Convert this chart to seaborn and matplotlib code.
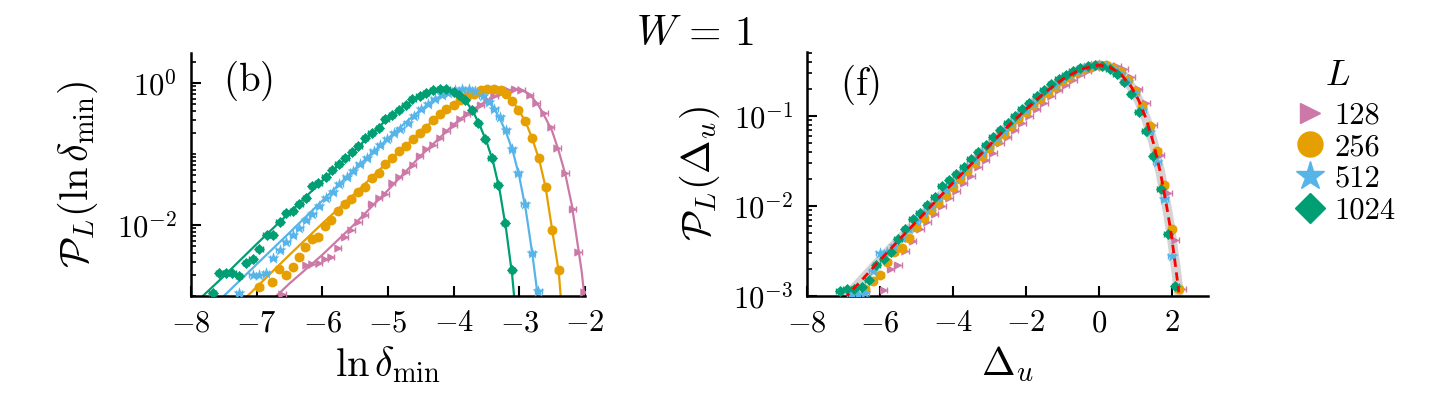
import numpy as np
import pandas as pd
import matplotlib
matplotlib.use("Agg")
import matplotlib.pyplot as plt
import seaborn as sns
from matplotlib.lines import Line2D
from matplotlib.ticker import FixedLocator, LogLocator, FuncFormatter, NullFormatter

# ---------------- data: panel (b), P_L(ln delta_min) ----------------
L_labels = ["128", "256", "512", "1024"]

lnd_x_128 = [-6.61, -6.25, -6.15, -6.05, -5.96, -5.87, -5.76, -5.66, -5.56, -5.45, -5.35, -5.25, -5.14, -5.04,
             -4.94, -4.83, -4.73, -4.62, -4.52, -4.42, -4.31, -4.21, -4.11, -4.00, -3.90, -3.80, -3.69, -3.59,
             -3.49, -3.38, -3.28, -3.18, -3.07, -2.97, -2.84, -2.74, -2.62, -2.52, -2.42, -2.30, -2.19, -2.10, -2.01]
lnd_y_128 = [0.00107, 0.0027, 0.0028, 0.0029, 0.0033, 0.0036, 0.0048, 0.0068, 0.0085, 0.0112, 0.014, 0.0195, 0.0243,
             0.0277, 0.0394, 0.048, 0.0565, 0.0705, 0.093, 0.116, 0.136, 0.17, 0.211, 0.255, 0.31, 0.366, 0.432,
             0.493, 0.569, 0.656, 0.733, 0.79, 0.816, 0.79, 0.686, 0.526, 0.379, 0.244, 0.122, 0.0547, 0.0169,
             0.0042, 0.00114]

lnd_x_256 = [-6.96, -6.76, -6.66, -6.55, -6.45, -6.35, -6.26, -6.15, -6.06, -5.96, -5.87, -5.76, -5.66, -5.56,
             -5.45, -5.35, -5.25, -5.14, -5.04, -4.94, -4.83, -4.73, -4.62, -4.52, -4.42, -4.31, -4.21, -4.11,
             -4.00, -3.90, -3.80, -3.69, -3.59, -3.49, -3.38, -3.28, -3.20, -3.11, -3.02, -2.91, -2.81, -2.70,
             -2.60, -2.50, -2.40]
lnd_y_256 = [0.00135, 0.0016, 0.0024, 0.00195, 0.0026, 0.0035, 0.0049, 0.0063, 0.0067, 0.0098, 0.0117, 0.0156,
             0.0195, 0.0235, 0.0292, 0.0345, 0.0454, 0.0535, 0.0728, 0.0878, 0.109, 0.129, 0.161, 0.20, 0.236,
             0.304, 0.366, 0.432, 0.493, 0.569, 0.656, 0.71, 0.79, 0.816, 0.816, 0.79, 0.71, 0.55, 0.418, 0.294,
             0.168, 0.0878, 0.0345, 0.00845, 0.00233]

lnd_x_512 = [-7.27, -7.06, -6.96, -6.86, -6.75, -6.65, -6.55, -6.45, -6.35, -6.25, -6.15, -6.05, -5.94, -5.84,
             -5.74, -5.63, -5.53, -5.43, -5.32, -5.22, -5.12, -5.01, -4.91, -4.81, -4.70, -4.60, -4.50, -4.39,
             -4.29, -4.18, -4.08, -3.98, -3.87, -3.77, -3.67, -3.56, -3.46, -3.38, -3.30, -3.20, -3.11, -3.02,
             -2.92, -2.81, -2.71]
lnd_y_512 = [0.0011, 0.0020, 0.0020, 0.0021, 0.0034, 0.0045, 0.0058, 0.0072, 0.0092, 0.0118, 0.0145, 0.0186,
             0.0237, 0.029, 0.0377, 0.048, 0.058, 0.073, 0.088, 0.109, 0.132, 0.161, 0.196, 0.223, 0.272, 0.347,
             0.432, 0.509, 0.588, 0.671, 0.733, 0.79, 0.816, 0.816, 0.765, 0.656, 0.538, 0.432, 0.328, 0.219,
             0.118, 0.0535, 0.0199, 0.0040, 0.00118]

lnd_x_1024 = [-7.67, -7.57, -7.47, -7.37, -7.27, -7.16, -7.06, -6.96, -6.85, -6.75, -6.65, -6.55, -6.45, -6.35,
              -6.25, -6.16, -6.06, -5.95, -5.85, -5.75, -5.65, -5.55, -5.45, -5.35, -5.25, -5.14, -5.04, -4.94,
              -4.83, -4.73, -4.63, -4.52, -4.42, -4.31, -4.21, -4.11, -4.00, -3.92, -3.83, -3.72, -3.63, -3.52,
              -3.42, -3.33, -3.22, -3.11]
lnd_y_1024 = [0.0011, 0.0021, 0.0021, 0.0021, 0.0019, 0.0029, 0.0033, 0.0046, 0.0072, 0.0072, 0.011, 0.0149,
              0.016, 0.020, 0.024, 0.035, 0.039, 0.048, 0.060, 0.073, 0.088, 0.107, 0.13, 0.168, 0.196, 0.236,
              0.31, 0.35, 0.42, 0.49, 0.59, 0.66, 0.73, 0.79, 0.82, 0.82, 0.76, 0.67, 0.57, 0.42, 0.27, 0.164,
              0.087, 0.037, 0.0107, 0.0023]

# fitted curves (solid lines)
fit_x_128 = [-6.70, -6.5, -6.0, -5.5, -5.0, -4.5, -4.0, -3.75, -3.5, -3.25, -3.05, -2.9, -2.8, -2.7, -2.6, -2.5,
             -2.4, -2.3, -2.2, -2.1, -2.05, -2.01]
fit_y_128 = [0.001, 0.0015, 0.0038, 0.0105, 0.031, 0.095, 0.26, 0.40, 0.56, 0.75, 0.82, 0.75, 0.62, 0.47, 0.32,
             0.21, 0.11, 0.052, 0.019, 0.0045, 0.0022, 0.001]
fit_x_256 = [-7.14, -6.5, -6.0, -5.5, -5.0, -4.5, -4.25, -4.0, -3.75, -3.5, -3.35, -3.2, -3.1, -3.0, -2.9, -2.8,
             -2.7, -2.6, -2.5, -2.4, -2.37]
fit_y_256 = [0.001, 0.0038, 0.0105, 0.028, 0.078, 0.205, 0.34, 0.50, 0.68, 0.81, 0.82, 0.72, 0.55, 0.40, 0.28,
             0.16, 0.085, 0.034, 0.0085, 0.0022, 0.001]
fit_x_512 = [-7.5, -7.0, -6.5, -6.0, -5.5, -5.0, -4.75, -4.5, -4.25, -4.0, -3.85, -3.7, -3.6, -3.5, -3.4, -3.3,
             -3.2, -3.1, -3.0, -2.9, -2.8, -2.72]
fit_y_512 = [0.001, 0.0028, 0.0078, 0.022, 0.062, 0.165, 0.27, 0.42, 0.62, 0.78, 0.82, 0.79, 0.72, 0.60, 0.46,
             0.32, 0.20, 0.11, 0.048, 0.016, 0.0038, 0.001]
fit_x_1024 = [-7.82, -7.5, -7.0, -6.5, -6.0, -5.5, -5.0, -4.75, -4.5, -4.25, -4.1, -4.0, -3.9, -3.8, -3.7, -3.6,
              -3.5, -3.4, -3.3, -3.2, -3.11, -3.08]
fit_y_1024 = [0.001, 0.0019, 0.0054, 0.015, 0.042, 0.115, 0.32, 0.48, 0.67, 0.80, 0.82, 0.78, 0.68, 0.53, 0.39,
              0.25, 0.15, 0.078, 0.031, 0.0085, 0.002, 0.001]

# ---------------- data: panel (f), P_L(Delta_u) ----------------
du_x_128 = [-5.9, -5.7, -5.5, -5.3, -5.1, -4.9, -4.7, -4.5, -4.3, -4.1, -3.9, -3.7, -3.5, -3.3, -3.1, -2.9, -2.7,
            -2.5, -2.3, -2.1, -1.9, -1.7, -1.5, -1.3, -1.1, -0.9, -0.7, -0.5, -0.3, -0.1, 0.1, 0.3, 0.5, 0.7,
            0.9, 1.1, 1.3, 1.5, 1.7, 1.9, 2.1, 2.3]
du_y_128 = [0.00117, 0.0020, 0.0022, 0.0032, 0.0041, 0.0056, 0.0067, 0.0082, 0.0100, 0.0122, 0.0148, 0.0180,
            0.0218, 0.0268, 0.0325, 0.0392, 0.050, 0.058, 0.070, 0.084, 0.100, 0.119, 0.141, 0.165, 0.193,
            0.223, 0.254, 0.285, 0.314, 0.340, 0.358, 0.367, 0.360, 0.330, 0.27, 0.20, 0.138, 0.079, 0.037,
            0.014, 0.0042, 0.0012]

du_x_256 = [-6.4, -6.2, -6.0, -5.8, -5.6, -5.4, -5.2, -5.0, -4.8, -4.6, -4.4, -4.2, -4.0, -3.8, -3.6, -3.4, -3.2,
            -3.0, -2.8, -2.6, -2.4, -2.2, -2.0, -1.8, -1.6, -1.4, -1.2, -1.0, -0.8, -0.6, -0.4, -0.2, 0.0, 0.2,
            0.4, 0.6, 0.8, 1.0, 1.2, 1.4, 1.6, 1.8, 2.0, 2.2]
du_y_256 = [0.0012, 0.00145, 0.0017, 0.0024, 0.0031, 0.0034, 0.0044, 0.0059, 0.0074, 0.0090, 0.0108, 0.0133,
            0.0163, 0.0200, 0.0245, 0.0297, 0.0360, 0.0436, 0.0528, 0.0637, 0.0768, 0.0920, 0.110, 0.131, 0.155,
            0.181, 0.210, 0.242, 0.274, 0.305, 0.333, 0.354, 0.366, 0.364, 0.345, 0.310, 0.252, 0.190, 0.128,
            0.078, 0.041, 0.017, 0.0055, 0.0012]

du_x_512 = [-6.8, -6.6, -6.4, -6.2, -6.0, -5.8, -5.6, -5.4, -5.2, -5.0, -4.8, -4.6, -4.4, -4.2, -4.0, -3.8, -3.6,
            -3.4, -3.2, -3.0, -2.8, -2.6, -2.4, -2.2, -2.0, -1.8, -1.6, -1.4, -1.2, -1.0, -0.8, -0.6, -0.4, -0.2,
            0.0, 0.2, 0.4, 0.6, 0.8, 1.0, 1.2, 1.4, 1.6, 1.8, 2.0]
du_y_512 = [0.00105, 0.00105, 0.00108, 0.0019, 0.0030, 0.0031, 0.0036, 0.0044, 0.0055, 0.0068, 0.0083, 0.0099,
            0.0122, 0.0150, 0.0182, 0.0222, 0.0268, 0.0325, 0.0392, 0.0472, 0.0570, 0.0688, 0.0826, 0.0990,
            0.118, 0.140, 0.165, 0.193, 0.223, 0.255, 0.287, 0.317, 0.343, 0.361, 0.368, 0.360, 0.336, 0.295,
            0.240, 0.178, 0.116, 0.066, 0.031, 0.012, 0.0028]

du_x_1024 = [-7.1, -6.9, -6.7, -6.5, -6.3, -6.1, -5.9, -5.7, -5.5, -5.3, -5.1, -4.9, -4.7, -4.5, -4.3, -4.1, -3.9,
             -3.7, -3.5, -3.3, -3.1, -2.9, -2.7, -2.5, -2.3, -2.1, -1.9, -1.7, -1.5, -1.3, -1.1, -0.9, -0.7, -0.5,
             -0.3, -0.1, 0.1, 0.3, 0.5, 0.7, 0.9, 1.1, 1.3, 1.5, 1.7, 1.9, 2.1]
du_y_1024 = [0.00115, 0.0012, 0.0012, 0.00125, 0.0015, 0.0022, 0.0026, 0.0031, 0.0043, 0.0056, 0.0072, 0.0084,
             0.0102, 0.0125, 0.0165, 0.0192, 0.0225, 0.027, 0.033, 0.040, 0.048, 0.058, 0.070, 0.084, 0.100,
             0.119, 0.141, 0.166, 0.194, 0.224, 0.256, 0.288, 0.318, 0.344, 0.362, 0.370, 0.362, 0.335, 0.294,
             0.238, 0.175, 0.112, 0.068, 0.036, 0.0155, 0.0049, 0.0013]

# collapse curve (red dashed)
ref_x = [-7.0, -6.5, -6.0, -5.5, -5.0, -4.5, -4.0, -3.5, -3.0, -2.5, -2.0, -1.5, -1.0, -0.5, 0.0, 0.3, 0.6, 0.9,
         1.1, 1.3, 1.5, 1.7, 1.9, 2.0, 2.1, 2.2]
ref_y = [0.00091, 0.0015, 0.0025, 0.0041, 0.0067, 0.011, 0.018, 0.029, 0.047, 0.076, 0.118, 0.179, 0.255, 0.331,
         0.368, 0.350, 0.295, 0.210, 0.149, 0.0936, 0.0507, 0.023, 0.0083, 0.0046, 0.0023, 0.0011]

# ---------------- style ----------------
colors = {"128": "#CC79A7", "256": "#E69F00", "512": "#56B4E9", "1024": "#009E73"}
markers = {"128": ">", "256": "o", "512": "*", "1024": "D"}
msize = {"128": 36, "256": 50, "512": 85, "1024": 32}
leg_msize = {"128": 14, "256": 18, "512": 21, "1024": 15}

lnd_data = {"128": (lnd_x_128, lnd_y_128, fit_x_128, fit_y_128),
            "256": (lnd_x_256, lnd_y_256, fit_x_256, fit_y_256),
            "512": (lnd_x_512, lnd_y_512, fit_x_512, fit_y_512),
            "1024": (lnd_x_1024, lnd_y_1024, fit_x_1024, fit_y_1024)}
du_data = {"128": (du_x_128, du_y_128), "256": (du_x_256, du_y_256),
           "512": (du_x_512, du_y_512), "1024": (du_x_1024, du_y_1024)}

sns.set_theme(style="ticks")
plt.rcParams["mathtext.fontset"] = "cm"
plt.rcParams["font.family"] = ["DejaVu Serif"]
plt.rcParams["axes.linewidth"] = 1.8
for key in ("text.color", "axes.labelcolor", "xtick.color", "ytick.color", "axes.edgecolor"):
    plt.rcParams[key] = "black"

fig = plt.figure(figsize=(14.47, 3.98), dpi=100)
ax1 = fig.add_axes([191 / 1447, 1 - 296 / 398, 394 / 1447, 243 / 398])
ax2 = fig.add_axes([807 / 1447, 1 - 296 / 398, 401 / 1447, 244 / 398])

math_fmt = FuncFormatter(lambda v, p: "$%g$" % v)
log_fmt = FuncFormatter(lambda v, p: "$10^{%d}$" % round(np.log10(v)))

# panel (b)
for L in L_labels:
    xs, ys, fx, fy = lnd_data[L]
    c = colors[L]
    sns.lineplot(x=fx, y=fy, ax=ax1, color=c, linewidth=1.6, estimator=None, sort=False, zorder=2)
    ax1.errorbar(xs, ys, xerr=0.05, fmt="none", ecolor=c, elinewidth=1.0, capsize=2.0, capthick=1.0, zorder=3)
    sns.scatterplot(x=xs, y=ys, ax=ax1, color=c, marker=markers[L], s=msize[L], linewidth=0, zorder=4)

ax1.set_yscale("log")
ax1.set_xlim(-8, -2)
ax1.set_ylim(1e-3, 2.65)
ax1.xaxis.set_major_locator(FixedLocator([-8, -7, -6, -5, -4, -3, -2]))
ax1.xaxis.set_major_formatter(math_fmt)
ax1.yaxis.set_major_locator(FixedLocator([1e-2, 1e0]))
ax1.yaxis.set_major_formatter(log_fmt)
ax1.yaxis.set_minor_locator(LogLocator(base=10, subs=np.arange(1, 10), numticks=20))
ax1.yaxis.set_minor_formatter(NullFormatter())
ax1.set_xlabel(r"$\ln\delta_{\min}$", fontsize=29, labelpad=4)
ax1.set_ylabel(r"$\mathcal{P}_L(\ln\delta_{\min})$", fontsize=29, labelpad=12)
ax1.text(0.081, 0.885, r"$(\mathrm{b})$", transform=ax1.transAxes, fontsize=28, va="center", ha="left")

# panel (f)
sns.lineplot(x=ref_x, y=ref_y, ax=ax2, color="#d4d4d4", linewidth=7, estimator=None, sort=False, zorder=1)
for L in L_labels:
    xs, ys = du_data[L]
    c = colors[L]
    ax2.errorbar(xs, ys, xerr=0.1, fmt="none", ecolor=c, elinewidth=1.0, capsize=2.0, capthick=1.0, zorder=3)
    sns.scatterplot(x=xs, y=ys, ax=ax2, color=c, marker=markers[L], s=msize[L], linewidth=0, zorder=4)
sns.lineplot(x=ref_x, y=ref_y, ax=ax2, color="red", linewidth=2.0, linestyle=(0, (3, 2)),
             estimator=None, sort=False, zorder=5)

ax2.set_yscale("log")
ax2.set_xlim(-8, 3)
ax2.set_ylim(1e-3, 0.514)
ax2.xaxis.set_major_locator(FixedLocator([-8, -6, -4, -2, 0, 2]))
ax2.xaxis.set_major_formatter(math_fmt)
ax2.yaxis.set_major_locator(FixedLocator([1e-3, 1e-2, 1e-1]))
ax2.yaxis.set_major_formatter(log_fmt)
ax2.yaxis.set_minor_locator(LogLocator(base=10, subs=np.arange(1, 10), numticks=20))
ax2.yaxis.set_minor_formatter(NullFormatter())
ax2.set_xlabel(r"$\Delta_u$", fontsize=29, labelpad=4)
ax2.set_ylabel(r"$\mathcal{P}_L(\Delta_u)$", fontsize=29, labelpad=8)
ax2.text(0.082, 0.865, r"$(\mathrm{f})$", transform=ax2.transAxes, fontsize=28, va="center", ha="left")

for ax in (ax1, ax2):
    sns.despine(ax=ax)
    ax.tick_params(axis="x", which="major", direction="in", length=7, width=1.5, labelsize=22, pad=8)
    ax.tick_params(axis="y", which="major", direction="in", length=7, width=1.5, labelsize=22, pad=10)
    ax.tick_params(axis="y", which="minor", direction="in", length=3.5, width=1.2)
    ax.grid(False)

fig.text(695 / 1447, 1 - 33 / 398, r"$W\,=\,1$", fontsize=30, ha="center", va="center")

# legend: title placed by hand, entries in a Computer Modern face
fig.text(1338 / 1447, 1 - 75 / 398, "$L$", fontsize=26, ha="center", va="center")
handles = [Line2D([], [], linestyle="none", marker=markers[L], color=colors[L], markersize=leg_msize[L])
           for L in L_labels]
leg = fig.legend(handles, L_labels, loc="upper left", bbox_to_anchor=(1293 / 1447, 1 - 102 / 398),
                 frameon=False, prop={"family": "cmr10", "size": 22},
                 handletextpad=0.25, labelspacing=0.14, handlelength=1.1, borderaxespad=0, borderpad=0)

fig.savefig("out.png", dpi=100)
